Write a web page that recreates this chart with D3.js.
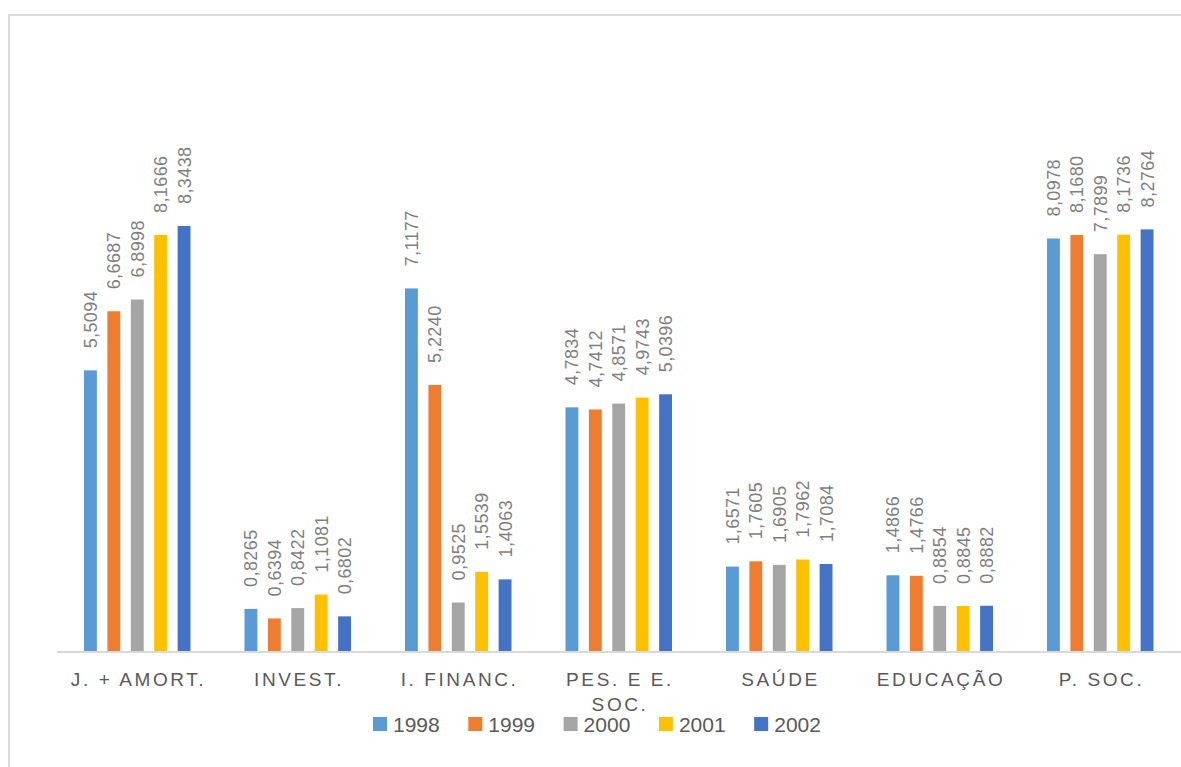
<!DOCTYPE html>
<html>
<head>
<meta charset="utf-8">
<script src="https://cdn.jsdelivr.net/npm/d3@7"></script>
<style>
  html, body { margin: 0; padding: 0; background: #fff; }
  svg { display: block; }
</style>
</head>
<body>
<svg id="chart" width="1181" height="767"></svg>
<script>
// Expense categories along the x axis
const categories = ["J. + AMORT.", "INVEST.", "I. FINANC.", "PES. E E. SOC.", "SAÚDE", "EDUCAÇÃO", "P. SOC."];
// Category labels split into lines where they wrap
const categoryLines = [["J. + AMORT."], ["INVEST."], ["I. FINANC."], ["PES. E E.", "SOC."], ["SAÚDE"], ["EDUCAÇÃO"], ["P. SOC."]];
// Years (series)
const years = ["1998", "1999", "2000", "2001", "2002"];
// Values per year, one entry per category
const v1998 = [5.5094, 0.8265, 7.1177, 4.7834, 1.6571, 1.4866, 8.0978];
const v1999 = [6.6687, 0.6394, 5.2240, 4.7412, 1.7605, 1.4766, 8.1680];
const v2000 = [6.8998, 0.8422, 0.9525, 4.8571, 1.6905, 0.8854, 7.7899];
const v2001 = [8.1666, 1.1081, 1.5539, 4.9743, 1.7962, 0.8845, 8.1736];
const v2002 = [8.3438, 0.6802, 1.4063, 5.0396, 1.7084, 0.8882, 8.2764];
const seriesValues = [v1998, v1999, v2000, v2001, v2002];
const colors = ["#5B9BD5", "#ED7D31", "#A5A5A5", "#FFC000", "#4472C4"];

const svg = d3.select("#chart");
const W = 1181, H = 767;

// Outer frame
svg.append("rect")
  .attr("x", 9).attr("y", 15)
  .attr("width", W + 10).attr("height", H + 10)
  .attr("fill", "none").attr("stroke", "#d9d9d9").attr("stroke-width", 2);

const plotLeft = 57, plotRight = 1180.5, baseY = 651;

const x0 = d3.scaleBand().domain(categories).range([plotLeft, plotRight]).padding(0);
const x1 = d3.scaleBand().domain(years).range([27, x0.bandwidth() - 27]).paddingInner(0.45).paddingOuter(0);
const y = d3.scaleLinear().domain([0, 10]).range([baseY, baseY - 509.4]);

const ptLocale = d3.formatLocale({ decimal: ",", thousands: ".", grouping: [3], currency: ["", ""] });
const fmt = ptLocale.format(".4f");

const rows = [];
categories.forEach((c, ci) => {
  years.forEach((yr, si) => {
    rows.push({ cat: c, year: yr, value: seriesValues[si][ci], color: colors[si] });
  });
});

// Bars
svg.append("g").selectAll("rect")
  .data(rows)
  .join("rect")
  .attr("x", d => x0(d.cat) + x1(d.year))
  .attr("y", d => y(d.value))
  .attr("width", x1.bandwidth())
  .attr("height", d => baseY - y(d.value))
  .attr("fill", d => d.color);

// Value labels, rotated above each bar
svg.append("g").selectAll("text")
  .data(rows)
  .join("text")
  .attr("transform", d => {
    const cx = x0(d.cat) + x1(d.year) + x1.bandwidth() / 2;
    return `translate(${cx},${y(d.value) - 22}) rotate(-90)`;
  })
  .attr("dy", "0.36em")
  .attr("text-anchor", "start")
  .attr("font-family", "'Liberation Sans', Arial, sans-serif")
  .attr("font-size", 18)
  .attr("letter-spacing", "0.4px")
  .attr("fill", "#7f7f7f")
  .text(d => fmt(d.value));

// Baseline
svg.append("line")
  .attr("x1", plotLeft).attr("x2", W)
  .attr("y1", baseY + 1).attr("y2", baseY + 1)
  .attr("stroke", "#d9d9d9").attr("stroke-width", 2);

// Category labels
const catG = svg.append("g");
categories.forEach((c, i) => {
  const t = catG.append("text")
    .attr("x", x0(c) + x0.bandwidth() / 2)
    .attr("y", 686)
    .attr("text-anchor", "middle")
    .attr("font-family", "'Liberation Sans', Arial, sans-serif")
    .attr("font-size", 19)
    .attr("letter-spacing", "2.6px")
    .attr("fill", "#595959");
  categoryLines[i].forEach((line, li) => {
    t.append("tspan")
      .attr("x", x0(c) + x0.bandwidth() / 2 + 1.3)
      .attr("dy", li === 0 ? 0 : 25)
      .text(line);
  });
});

// Legend
const legendX = d3.scaleBand().domain(years).range([373, 373 + 95.3 * 5]);
const leg = svg.append("g").selectAll("g")
  .data(years)
  .join("g")
  .attr("transform", d => `translate(${legendX(d)},717)`);
leg.append("rect")
  .attr("width", 14).attr("height", 14)
  .attr("fill", (d, i) => colors[i]);
leg.append("text")
  .attr("x", 20).attr("y", 15)
  .attr("font-family", "'Liberation Sans', Arial, sans-serif")
  .attr("font-size", 21)
  .attr("fill", "#595959")
  .text(d => d);
</script>
</body>
</html>
